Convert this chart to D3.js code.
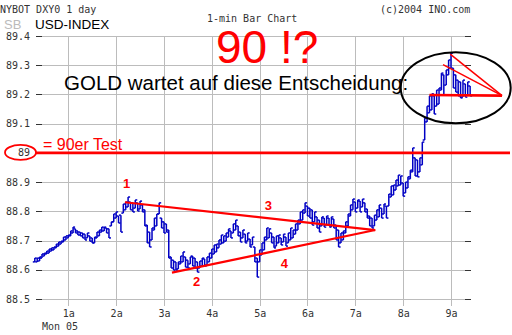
<!DOCTYPE html>
<html>
<head>
<meta charset="utf-8">
<script src="https://cdn.jsdelivr.net/npm/d3@7"></script>
<style>
  html, body { margin: 0; padding: 0; background: #fff; }
  svg { display: block; }
  .mono { font-family: "DejaVu Sans Mono", monospace; font-size: 10px; fill: #333; }
  .sans { font-family: "Liberation Sans", Arial, sans-serif; }
</style>
</head>
<body>
<svg id="chart" width="512" height="335"></svg>
<script>
// 1-minute bars of the USD index, sampled every 3 minutes (minutes after midnight)
const barStart = 18, barStep = 3;

const highs = [
  88.640, 88.640, 88.644, 88.654, 88.657, 88.664, 88.671, 88.675, 88.678, 88.688,
  88.695, 88.698, 88.712, 88.716, 88.719, 88.733, 88.746, 88.740, 88.733, 88.729,
  88.726, 88.722, 88.726, 88.716, 88.709, 88.712, 88.729, 88.736, 88.746, 88.746,
  88.743, 88.740, 88.764, 88.791, 88.798, 88.784, 88.787, 88.825, 88.832, 88.849,
  88.832, 88.829, 88.839, 88.829, 88.835, 88.822, 88.805, 88.753, 88.729, 88.743,
  88.777, 88.791, 88.829, 88.777, 88.764, 88.757, 88.736, 88.644, 88.633, 88.627,
  88.627, 88.647, 88.661, 88.644, 88.633, 88.644, 88.647, 88.640, 88.627, 88.630,
  88.640, 88.637, 88.644, 88.657, 88.671, 88.685, 88.688, 88.702, 88.719, 88.716,
  88.726, 88.740, 88.733, 88.757, 88.770, 88.750, 88.729, 88.736, 88.722, 88.726,
  88.705, 88.712, 88.678, 88.640, 88.668, 88.692, 88.712, 88.743, 88.740, 88.726,
  88.712, 88.716, 88.719, 88.709, 88.722, 88.712, 88.726, 88.743, 88.736, 88.757,
  88.770, 88.798, 88.805, 88.829, 88.818, 88.811, 88.805, 88.798, 88.781, 88.770,
  88.781, 88.777, 88.784, 88.777, 88.781, 88.774, 88.753, 88.736, 88.726, 88.733,
  88.764, 88.791, 88.822, 88.842, 88.832, 88.839, 88.835, 88.842, 88.829, 88.808,
  88.784, 88.777, 88.787, 88.805, 88.822, 88.811, 88.825, 88.818, 88.859, 88.887,
  88.890, 88.907, 88.924, 88.921, 88.897, 88.900, 88.918, 88.941, 89.017, 88.983,
  88.976, 88.983, 89.037, 89.119, 89.160, 89.195, 89.202, 89.195, 89.215, 89.222,
  89.273, 89.267, 89.284, 89.318, 89.342, 89.290, 89.267, 89.249, 89.243, 89.249,
  89.236, 89.243, 89.229
];

const lows = [
  88.627, 88.627, 88.630, 88.640, 88.647, 88.654, 88.657, 88.664, 88.668, 88.675,
  88.681, 88.688, 88.695, 88.702, 88.709, 88.716, 88.726, 88.726, 88.719, 88.716,
  88.709, 88.702, 88.709, 88.698, 88.692, 88.692, 88.709, 88.716, 88.729, 88.733,
  88.726, 88.709, 88.750, 88.764, 88.777, 88.760, 88.729, 88.794, 88.805, 88.815,
  88.805, 88.798, 88.811, 88.801, 88.808, 88.798, 88.750, 88.692, 88.678, 88.702,
  88.736, 88.750, 88.791, 88.743, 88.726, 88.729, 88.640, 88.606, 88.599, 88.599,
  88.603, 88.620, 88.627, 88.609, 88.606, 88.620, 88.613, 88.606, 88.592, 88.606,
  88.613, 88.613, 88.616, 88.627, 88.640, 88.654, 88.661, 88.675, 88.688, 88.692,
  88.698, 88.712, 88.709, 88.726, 88.736, 88.716, 88.695, 88.709, 88.692, 88.698,
  88.678, 88.685, 88.627, 88.575, 88.627, 88.651, 88.668, 88.702, 88.709, 88.692,
  88.675, 88.681, 88.692, 88.685, 88.695, 88.681, 88.692, 88.702, 88.709, 88.722,
  88.736, 88.757, 88.770, 88.794, 88.784, 88.777, 88.753, 88.764, 88.743, 88.729,
  88.750, 88.746, 88.753, 88.750, 88.746, 88.743, 88.702, 88.678, 88.692, 88.702,
  88.726, 88.750, 88.784, 88.805, 88.798, 88.811, 88.798, 88.815, 88.798, 88.777,
  88.750, 88.743, 88.750, 88.770, 88.781, 88.777, 88.791, 88.777, 88.818, 88.849,
  88.856, 88.873, 88.887, 88.890, 88.852, 88.863, 88.880, 88.911, 88.935, 88.921,
  88.918, 88.935, 88.959, 89.044, 89.106, 89.137, 89.147, 89.133, 89.160, 89.167,
  89.215, 89.198, 89.232, 89.267, 89.290, 89.222, 89.208, 89.195, 89.188, 89.191,
  89.191, 89.198, 89.195
];

const barMinutes = highs.map((_, i) => barStart + i * barStep);

// Axis ticks
const priceTicks = [88.5, 88.6, 88.7, 88.8, 88.9, 89.0, 89.1, 89.2, 89.3, 89.4];
const priceLabels = ["88.5", "88.6", "88.7", "88.8", "88.9", "89", "89.1", "89.2", "89.3", "89.4"];
const hourTicks = [60, 120, 180, 240, 300, 360, 420, 480, 540];
const hourLabels = ["1a", "2a", "3a", "4a", "5a", "6a", "7a", "8a", "9a"];

// Hand-drawn pattern: triangle (points 1-4) and the top consolidation wedge
const triangleUpper = [[131, 88.831], [445, 88.736]];
const triangleLower = [[190, 88.590], [445, 88.736]];
const patternLabels = [
  { text: "1", t: 133, v: 88.880 },
  { text: "2", t: 221, v: 88.545 },
  { text: "3", t: 311, v: 88.805 },
  { text: "4", t: 331, v: 88.605 }
];
const wedgeLines = [
  [[539, 89.338], [604, 89.196]],
  [[530, 89.302], [604, 89.196]]
];
const wedgeBase = [[513, 89.198], [604, 89.196]];
const testLevel = 89.0;

const svg = d3.select("#chart");

const x = d3.scaleLinear().domain([60, 540]).range([68.3, 451]);
const y = d3.scaleLinear().domain([88.5, 89.4]).range([299, 36]);

const gridLeft = 42, gridRight = 465;

// Grid
svg.append("g").selectAll("line.h").data(priceTicks).join("line")
  .attr("x1", gridLeft).attr("x2", gridRight)
  .attr("y1", d => Math.round(y(d)) + 0.5).attr("y2", d => Math.round(y(d)) + 0.5)
  .attr("stroke", "#bcbcbc").attr("stroke-width", 1);

svg.append("g").selectAll("line.v").data(hourTicks).join("line")
  .attr("x1", d => Math.round(x(d)) + 0.5).attr("x2", d => Math.round(x(d)) + 0.5)
  .attr("y1", 36).attr("y2", 306)
  .attr("stroke", "#bcbcbc").attr("stroke-width", 1);

// Tick marks both sides
const tickG = svg.append("g").attr("stroke", "#333").attr("stroke-width", 1);
priceTicks.forEach(d => {
  const yy = Math.round(y(d)) + 0.5;
  tickG.append("line").attr("x1", 36).attr("x2", 42).attr("y1", yy).attr("y2", yy);
  tickG.append("line").attr("x1", 465).attr("x2", 471).attr("y1", yy).attr("y2", yy);
});

// Price labels
svg.append("g").selectAll("text").data(priceTicks).join("text")
  .attr("class", "mono")
  .attr("x", 30).attr("y", d => y(d) + 3.6)
  .attr("text-anchor", "end")
  .text((d, i) => priceLabels[i]);

// Hour labels
svg.append("g").selectAll("text").data(hourTicks).join("text")
  .attr("class", "mono")
  .attr("x", d => x(d) + 0.5).attr("y", 316.5)
  .attr("text-anchor", "middle")
  .text((d, i) => hourLabels[i]);
svg.append("text").attr("class", "mono").attr("x", 42).attr("y", 329.5).text("Mon 05");

// Header texts
svg.append("text").attr("class", "mono").attr("x", 0).attr("y", 13).text("NYBOT DXY0 1 day");
svg.append("text").attr("class", "mono").attr("x", 380).attr("y", 13).text("(c)2004 INO.com");
svg.append("text").attr("class", "mono").attr("x", 207).attr("y", 22).text("1-min Bar Chart");
svg.append("text").attr("class", "sans").attr("x", 4).attr("y", 28.5)
  .attr("font-size", 13).attr("fill", "#bbb").text("SB");
svg.append("text").attr("class", "sans").attr("x", 35).attr("y", 29)
  .attr("font-size", 13.5).attr("fill", "#000").text("USD-INDEX");

// Bars
const bars = svg.append("g").attr("stroke", "#0000c4").attr("stroke-width", 1.5);
barMinutes.forEach((t, i) => {
  const xx = x(t);
  const hi = y(highs[i]), lo = y(lows[i]);
  const rising = i === 0 || (highs[i] + lows[i]) >= (highs[i - 1] + lows[i - 1]);
  bars.append("line").attr("x1", xx).attr("x2", xx).attr("y1", hi).attr("y2", lo);
  bars.append("line").attr("x1", xx - 2).attr("x2", xx)
    .attr("y1", rising ? lo : hi).attr("y2", rising ? lo : hi);
  bars.append("line").attr("x1", xx).attr("x2", xx + 2)
    .attr("y1", rising ? hi : lo).attr("y2", rising ? hi : lo);
});

// 90 level line and its marker
const y90 = y(testLevel);
svg.append("line").attr("x1", 36).attr("x2", 510).attr("y1", y90).attr("y2", y90)
  .attr("stroke", "#f00").attr("stroke-width", 2.6);
svg.append("ellipse").attr("cx", 20.5).attr("cy", y90 - 0.5).attr("rx", 15.5).attr("ry", 7.5)
  .attr("fill", "none").attr("stroke", "#f00").attr("stroke-width", 1.8);
svg.append("text").attr("class", "sans").attr("x", 43).attr("y", 150)
  .attr("font-size", 16).attr("fill", "#f00").text("= 90er Test");

// Triangle pattern
const line = d3.line().x(d => x(d[0])).y(d => y(d[1]));
[triangleUpper, triangleLower].forEach(seg => {
  svg.append("path").attr("d", line(seg)).attr("fill", "none")
    .attr("stroke", "#f00").attr("stroke-width", 2.2);
});
svg.append("g").selectAll("text").data(patternLabels).join("text")
  .attr("class", "sans")
  .attr("x", d => x(d.t)).attr("y", d => y(d.v))
  .attr("text-anchor", "middle").attr("font-size", 13).attr("font-weight", "bold")
  .attr("fill", "#f00")
  .text(d => d.text);

// Top wedge and circle
wedgeLines.forEach(seg => {
  svg.append("path").attr("d", line(seg)).attr("fill", "none")
    .attr("stroke", "#f00").attr("stroke-width", 1.5);
});
svg.append("path").attr("d", line(wedgeBase)).attr("fill", "none")
  .attr("stroke", "#f00").attr("stroke-width", 2.6);
svg.append("ellipse").attr("cx", 455.7).attr("cy", 87.8).attr("rx", 55).attr("ry", 35.5)
  .attr("fill", "none").attr("stroke", "#000").attr("stroke-width", 2);

// Headline annotations
svg.append("text").attr("class", "sans").attr("x", 216).attr("y", 63)
  .attr("font-size", 46).attr("fill", "#f00").text("90 !?");
svg.append("text").attr("class", "sans").attr("x", 64).attr("y", 90)
  .attr("font-size", 20.5).attr("fill", "#000").text("GOLD wartet auf diese Entscheidung:");
</script>
</body>
</html>
